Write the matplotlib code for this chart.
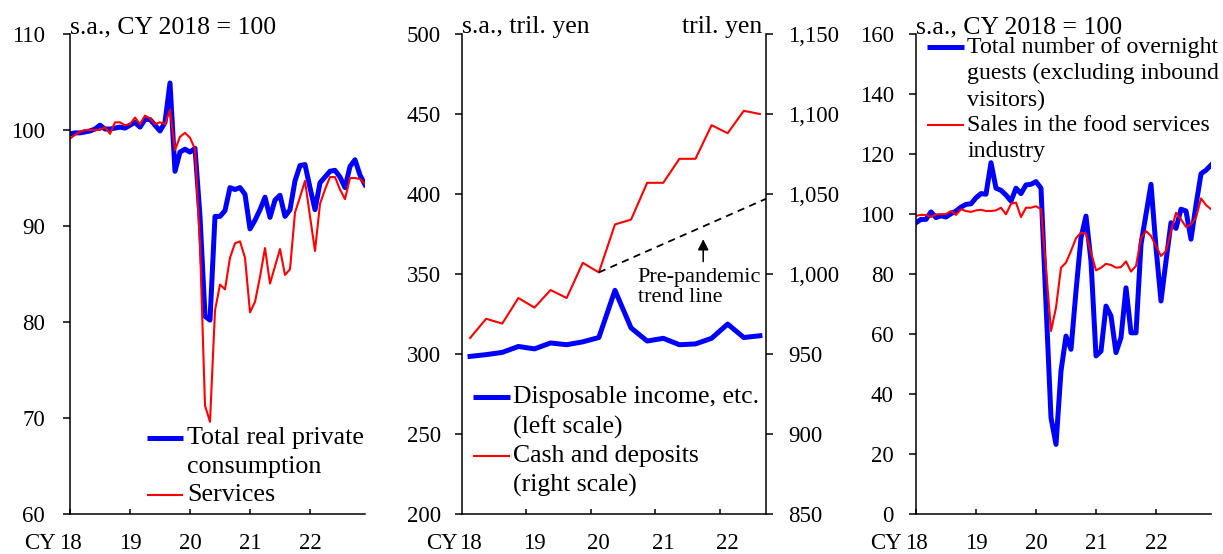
import numpy as np
import matplotlib
matplotlib.use("Agg")
import matplotlib.pyplot as plt
from matplotlib.ticker import FuncFormatter

plt.rcParams['font.family'] = ['Liberation Serif', 'DejaVu Serif']
plt.rcParams['font.size'] = 16.5

# ---- data ----
year_labels = ["18", "19", "20", "21", "22"]

# left panel: monthly, Jan 2018 - Dec 2022, s.a., CY2018 = 100
consumption_total = [99.6, 99.7, 99.7, 99.8, 99.9, 100.1, 100.5, 100.1, 100.1, 100.2, 100.3, 100.2,
                     100.5, 100.8, 100.3, 101.1, 101.1, 100.5, 99.9, 100.8, 104.9, 95.7, 97.7, 98.0,
                     97.7, 98.1, 91.0, 80.6, 80.2, 91.0, 91.0, 91.6, 94.0, 93.8, 94.0, 93.3,
                     89.7, 90.6, 91.7, 93.0, 90.9, 92.7, 93.2, 91.0, 91.7, 94.7, 96.3, 96.4,
                     94.0, 91.7, 94.5, 95.1, 95.7, 95.8, 95.1, 94.0, 96.2, 96.9, 95.3, 94.3]
consumption_services = [99.1, 99.5, 99.8, 100.0, 100.0, 100.0, 100.0, 100.3, 99.6, 100.8, 100.8, 100.5,
                        100.6, 101.3, 100.6, 101.5, 101.2, 100.6, 100.8, 100.6, 102.1, 97.9, 99.3, 99.7,
                        99.2, 98.0, 88.0, 71.3, 69.6, 81.2, 83.9, 83.4, 86.7, 88.2, 88.4, 86.7,
                        81.0, 82.1, 84.7, 87.7, 84.0, 85.8, 87.6, 84.9, 85.5, 91.4, 93.0, 94.7,
                        91.0, 87.4, 92.3, 93.8, 95.1, 95.1, 93.8, 92.8, 95.0, 95.0, 94.9, 94.4]

# middle panel: quarterly, 2018Q1 - 2022Q3, tril. yen
disposable_income = [298.5, 299.6, 301.0, 304.7, 303.2, 306.9, 305.8, 307.6, 310.3, 339.8,
                     316.3, 308.1, 309.8, 305.8, 306.3, 309.8, 318.7, 310.3, 311.4]
cash_deposits = [960, 972, 969, 985, 979, 990, 985, 1007, 1001, 1031,
                 1034, 1057, 1057, 1072, 1072, 1093, 1088, 1102, 1100]
trend_start_q = 8          # 2020Q1
trend_end_value = 1047
quarter_axis_end = 4.72    # years after Jan 2018

# right panel: monthly, s.a., CY2018 = 100
overnight_guests = [97.1, 98.2, 98.2, 100.7, 98.8, 99.4, 99.0, 100.1, 101.0, 102.3, 103.2, 103.4,
                    105.4, 106.8, 106.6, 117.1, 108.6, 107.9, 106.3, 104.3, 108.6, 106.8, 109.7, 109.9,
                    110.8, 108.6, 70.0, 32.1, 23.2, 47.7, 59.3, 54.9, 74.3, 92.1, 99.3, 84.3,
                    52.7, 54.3, 69.3, 66.0, 53.8, 58.8, 75.4, 60.4, 60.4, 89.9, 99.9, 109.9,
                    88.8, 71.0, 84.3, 97.1, 95.2, 101.6, 101.0, 91.6, 103.0, 113.4, 114.6, 116.3]
food_sales = [99.4, 99.7, 99.7, 99.0, 99.9, 99.9, 100.0, 101.0, 99.7, 101.6, 101.0, 100.7,
              101.2, 101.4, 101.0, 101.0, 101.2, 102.1, 99.9, 103.4, 103.8, 99.0, 102.1, 102.1,
              102.6, 101.6, 82.0, 61.0, 68.8, 82.1, 83.8, 87.7, 91.9, 93.8, 93.4, 87.1,
              81.2, 82.1, 83.4, 83.0, 82.1, 82.3, 84.2, 80.8, 82.7, 92.0, 94.3, 92.7,
              89.3, 86.0, 87.7, 94.3, 100.4, 98.2, 95.7, 96.6, 98.8, 105.2, 103.0, 101.6]

months = np.arange(len(consumption_total)) / 12.0
quarters = (np.arange(len(cash_deposits)) + 0.5) / 4.0

BLUE = "#0000ff"
RED = "#ff0000"
FIG_W, FIG_H = 1223, 554
TITLE_FS = 18.5
XPAD = 13.5


def px_axes(left, right, top=34, bottom=514):
    # axes box from pixel edges
    return fig.add_axes([left / FIG_W, 1 - bottom / FIG_H,
                         (right - left) / FIG_W, (bottom - top) / FIG_H])


def style_axes(ax, ypad=11):
    for s in ["top", "right"]:
        ax.spines[s].set_visible(False)
    for s in ax.spines.values():
        s.set_linewidth(1.1)
    ax.tick_params(axis="y", direction="out", length=5, width=1.1, pad=ypad)
    ax.tick_params(axis="x", direction="in", length=3.5, width=1.1, pad=XPAD)


def manual_legend(ax, entries, x0, x1, xt, step, fs):
    # entries: (color, lw, [lines], y of first line) in axes fraction
    for color, lw, lines, y in entries:
        ax.plot([x0, x1], [y, y], color=color, lw=lw, transform=ax.transAxes,
                clip_on=False, solid_capstyle="butt")
        for k, line in enumerate(lines):
            ax.text(xt, y - k * step, line, transform=ax.transAxes,
                    ha="left", va="center", fontsize=fs)


fig = plt.figure(figsize=(FIG_W / 100, FIG_H / 100), dpi=100)

# ---- left panel ----
ax1 = px_axes(70, 365)
ax1.plot(months, consumption_total, color=BLUE, lw=3.6)
ax1.plot(months, consumption_services, color=RED, lw=1.5)
ax1.set_xlim(0, months[-1])
ax1.set_ylim(60, 110)
ax1.set_yticks(np.arange(60, 111, 10))
ax1.set_xticks(np.arange(5))
ax1.set_xticklabels(year_labels)
style_axes(ax1, ypad=13)
ax1.annotate("CY", xy=(0, 0), xycoords=("data", "axes fraction"),
             xytext=(-10, -XPAD), textcoords="offset points", ha="right", va="top")
ax1.text(0.0, 1.002, "s.a., CY 2018 = 100", transform=ax1.transAxes,
         ha="left", va="baseline", fontsize=TITLE_FS)
manual_legend(ax1, [(BLUE, 3.6, ["Total real private", "consumption"], 0.159),
                    (RED, 1.5, ["Services"], 0.040)],
              0.261, 0.383, 0.396, 0.061, 18.7)

# ---- middle panel ----
ax2 = px_axes(462, 766)
ax2r = ax2.twinx()
ax2.plot(quarters, disposable_income, color=BLUE, lw=3.6)
ax2r.plot(quarters, cash_deposits, color=RED, lw=1.5)
ax2r.plot([quarters[trend_start_q], quarter_axis_end],
          [cash_deposits[trend_start_q], trend_end_value],
          color="black", lw=1.3, ls=(0, (4, 3)))
ax2.set_xlim(0, quarter_axis_end)
ax2.set_ylim(200, 500)
ax2r.set_ylim(850, 1150)
ax2.set_yticks(np.arange(200, 501, 50))
ax2r.set_yticks(np.arange(850, 1151, 50))
ax2r.yaxis.set_major_formatter(FuncFormatter(lambda v, p: f"{int(v):,}"))
ax2.set_xticks(np.arange(1, 5))
ax2.set_xticklabels([])
ax2.set_xticks(np.arange(5) + 0.125, minor=True)
ax2.set_xticklabels(year_labels, minor=True)
style_axes(ax2, ypad=10)
ax2.tick_params(axis="x", which="minor", length=0, pad=XPAD)
for s in ["top", "left", "bottom"]:
    ax2r.spines[s].set_visible(False)
ax2r.spines["right"].set_linewidth(1.1)
ax2r.tick_params(axis="y", direction="out", length=5, width=1.1, pad=11)
ax2.annotate("CY", xy=(0.125, 0), xycoords=("data", "axes fraction"),
             xytext=(-8.5, -XPAD), textcoords="offset points", ha="right", va="top")
ax2.text(0.0, 1.002, "s.a., tril. yen", transform=ax2.transAxes, ha="left",
         va="baseline", fontsize=TITLE_FS)
ax2.text(0.988, 1.002, "tril. yen", transform=ax2.transAxes, ha="right",
         va="baseline", fontsize=TITLE_FS)
ax2r.annotate("", xy=(3.745, 1023.5), xytext=(3.745, 1006),
              arrowprops=dict(arrowstyle="-|>", color="black", lw=1.1, mutation_scale=16))
ax2r.text(2.73, 991.6, "Pre-pandemic\ntrend line", ha="left", va="center",
          fontsize=16, linespacing=1.1)
manual_legend(ax2, [(BLUE, 3.6, ["Disposable income, etc.", "(left scale)"], 0.243),
                    (RED, 1.5, ["Cash and deposits", "(right scale)"], 0.121)],
              0.036, 0.158, 0.168, 0.0625, 18.5)

# ---- right panel ----
ax3 = px_axes(916, 1211)
ax3.plot(months, overnight_guests, color=BLUE, lw=3.6)
ax3.plot(months, food_sales, color=RED, lw=1.5)
ax3.set_xlim(0, months[-1])
ax3.set_ylim(0, 160)
ax3.set_yticks(np.arange(0, 161, 20))
ax3.set_xticks(np.arange(5))
ax3.set_xticklabels(year_labels)
style_axes(ax3, ypad=11)
ax3.annotate("CY", xy=(0, 0), xycoords=("data", "axes fraction"),
             xytext=(-10, -XPAD), textcoords="offset points", ha="right", va="top")
ax3.text(0.0, 1.002, "s.a., CY 2018 = 100", transform=ax3.transAxes,
         ha="left", va="baseline", fontsize=TITLE_FS)
manual_legend(ax3, [(BLUE, 3.6, ["Total number of overnight", "guests (excluding inbound",
                                 "visitors)"], 0.972),
                    (RED, 1.5, ["Sales in the food services", "industry"], 0.810)],
              0.037, 0.163, 0.173, 0.055, 17.2)

fig.savefig("out.png", dpi=100)
